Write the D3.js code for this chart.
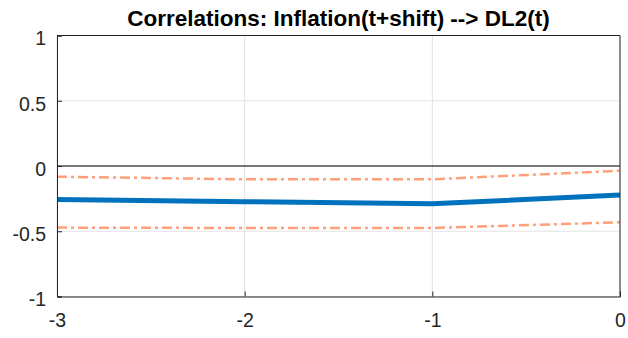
<!DOCTYPE html>
<html>
<head>
<meta charset="utf-8">
<script src="https://cdn.jsdelivr.net/npm/d3@7"></script>
<style>
  body { margin: 0; background: #fff; }
  text { font-family: "Liberation Sans", Arial, sans-serif; }
</style>
</head>
<body>
<svg id="chart" width="628" height="338"></svg>
<script>
// shifts on the x axis
const shifts = [-3, -2, -1, 0];
// correlation estimate and its confidence band
const corr = [-0.256, -0.273, -0.29, -0.222];
const upper = [-0.082, -0.102, -0.102, -0.036];
const lower = [-0.472, -0.475, -0.475, -0.431];
const xTicks = [-3, -2, -1, 0];
const yTicks = [-1, -0.5, 0, 0.5, 1];

const svg = d3.select("#chart");
const mLeft = 57, mRight = 620, mTop = 35.5, mBottom = 296.5;

let x = d3.scaleLinear().domain([-3, 0]).range([mLeft, mRight]);
let y = d3.scaleLinear().domain([-1, 1]).range([mBottom, mTop]);

// grid
svg.append("g")
  .selectAll("line")
  .data(xTicks)
  .join("line")
  .attr("x1", d => x(d)).attr("x2", d => x(d))
  .attr("y1", mTop).attr("y2", mBottom)
  .attr("stroke", "#e3e3e3").attr("stroke-width", 1);
svg.append("g")
  .selectAll("line")
  .data(yTicks)
  .join("line")
  .attr("x1", mLeft).attr("x2", mRight)
  .attr("y1", d => y(d)).attr("y2", d => y(d))
  .attr("stroke", "#e3e3e3").attr("stroke-width", 1);

// zero line
svg.append("line")
  .attr("x1", x(-3)).attr("x2", x(0))
  .attr("y1", y(0)).attr("y2", y(0))
  .attr("stroke", "#000").attr("stroke-width", 1.2);

let line = d3.line()
  .x((d, i) => x(shifts[i]))
  .y(d => y(d));

// band lines
[upper, lower].forEach(s => {
  svg.append("path")
    .datum(s)
    .attr("d", line)
    .attr("fill", "none")
    .attr("stroke", "#ffa07a")
    .attr("stroke-width", 2.5)
    .attr("stroke-dasharray", "10 4 3 4");
});

svg.append("path")
  .datum(corr)
  .attr("d", line)
  .attr("fill", "none")
  .attr("stroke", "#0072bd")
  .attr("stroke-width", 5);

// axes (MATLAB style, ticks inside)
let axisBottom = d3.axisBottom(x).tickValues(xTicks).tickSize(-5).tickPadding(17).tickFormat(d => String(d));
let axisLeft = d3.axisLeft(y).tickValues(yTicks).tickSize(-5).tickPadding(11).tickFormat(d => String(d));

let gx = svg.append("g").attr("transform", `translate(0,${mBottom})`).call(axisBottom);
let gy = svg.append("g").attr("transform", `translate(${mLeft},0)`).call(axisLeft);
[gx, gy].forEach(g => {
  g.select(".domain").attr("stroke", "#262626").attr("stroke-width", 1);
  g.selectAll(".tick line").attr("stroke", "#262626");
  g.selectAll(".tick text")
    .attr("fill", "#262626")
    .style("font-size", "19.5px")
    .style("font-family", "'Liberation Sans', Arial, sans-serif");
});
gy.selectAll(".tick text").attr("dy", "0.48em");

// top and right box edges
svg.append("line").attr("x1", mLeft).attr("x2", mRight).attr("y1", mTop).attr("y2", mTop)
  .attr("stroke", "#262626");
svg.append("line").attr("x1", mRight).attr("x2", mRight).attr("y1", mTop).attr("y2", mBottom)
  .attr("stroke", "#262626");

svg.append("text")
  .attr("x", (mLeft + mRight) / 2)
  .attr("y", 26)
  .attr("text-anchor", "middle")
  .attr("font-weight", "bold")
  .attr("font-size", "22.5px")
  .attr("fill", "#000")
  .text("Correlations: Inflation(t+shift) --> DL2(t)");
</script>
</body>
</html>
